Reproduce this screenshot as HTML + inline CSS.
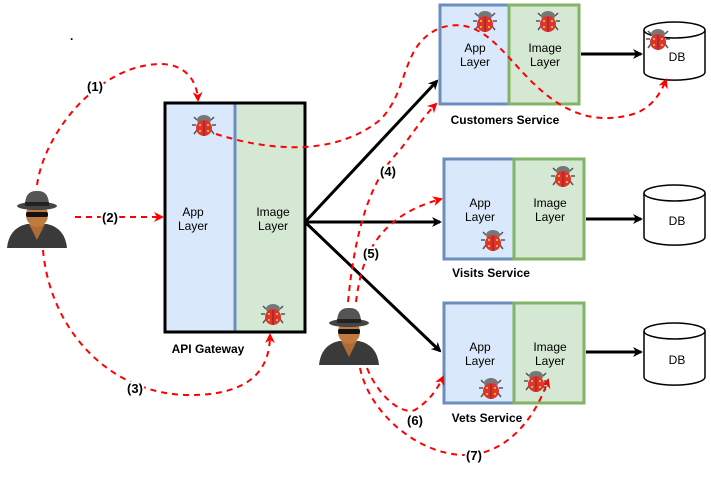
<!DOCTYPE html>
<html><head><meta charset="utf-8"><style>
body{margin:0;background:#fff;width:711px;height:477px;overflow:hidden}
svg{display:block}
text{font-family:"Liberation Sans",sans-serif;font-size:12px;fill:#000}
.b{font-weight:bold}
.l{font-weight:bold;font-size:13px;stroke:#fff;stroke-width:4px;paint-order:stroke;text-anchor:middle}
</style></head><body>
<svg width="711" height="477" viewBox="0 0 711 477" xmlns="http://www.w3.org/2000/svg">
<defs>
<marker id="ab" markerWidth="10" markerHeight="10" refX="8" refY="5" orient="auto" markerUnits="userSpaceOnUse"><path d="M0,0 L10,5 L0,10 L3,5z" fill="#000"/></marker>
<marker id="ar" markerWidth="10" markerHeight="10" refX="8" refY="5" orient="auto" markerUnits="userSpaceOnUse"><path d="M0,0 L10,5 L0,10 L3,5z" fill="#f00"/></marker>
<g id="bug">
<path d="M-7,-5 L-10,-8 M7,-5 L10,-8 M-8,0 L-12,0 M8,0 L12,0 M-7,5 L-10,9 M7,5 L10,9" stroke="#555" stroke-width="1.5"/>
<ellipse cx="0" cy="-5" rx="7" ry="5" fill="#777"/>
<ellipse cx="0" cy="3" rx="8" ry="8" fill="#d33"/>
<line x1="0" y1="-4" x2="0" y2="11" stroke="#822" stroke-width="1"/>
<circle cx="-4" cy="0" r="1" fill="#fd0"/><circle cx="4" cy="0" r="1" fill="#fd0"/><circle cx="-4" cy="6" r="1" fill="#fd0"/><circle cx="4" cy="6" r="1" fill="#fd0"/>
</g>
<g id="hk">
<path d="M-30,30 Q-28,10 -10,6 L10,6 Q28,10 30,30 Z" fill="#3a3a3a"/>
<path d="M-8,6 L0,22 L8,6 Z" fill="#b06a35"/>
<ellipse cx="0" cy="-3" rx="11" ry="12" fill="#c07a40"/>
<rect x="-11" y="-6" width="22" height="5" rx="2" fill="#111"/>
<ellipse cx="0" cy="-12" rx="20" ry="4" fill="#444"/>
<path d="M-12,-12 Q-12,-28 0,-27 Q12,-28 12,-12 Z" fill="#555"/>
<rect x="-12" y="-16" width="24" height="4" fill="#222"/>
</g>
</defs>

<rect x="166" y="104" width="69" height="228" fill="#dae8fc"/>
<rect x="235" y="104" width="69" height="228" fill="#d5e8d4"/>
<line x1="235" y1="104" x2="235" y2="332" stroke="#6c8ebf" stroke-width="3"/>
<rect x="165" y="103" width="140" height="229" fill="none" stroke="#000" stroke-width="3"/>
<text x="193" y="216" text-anchor="middle">App</text><text x="193" y="230" text-anchor="middle">Layer</text>
<text x="273" y="216" text-anchor="middle">Image</text><text x="273" y="230" text-anchor="middle">Layer</text>
<text x="208" y="353" text-anchor="middle" class="b">API Gateway</text>

<g stroke-width="3">
<rect x="440" y="5" width="69" height="99" fill="#dae8fc" stroke="#6c8ebf"/>
<rect x="509" y="5" width="70" height="99" fill="#d5e8d4" stroke="#82b366"/>
<rect x="444" y="159" width="70" height="100" fill="#dae8fc" stroke="#6c8ebf"/>
<rect x="514" y="159" width="70" height="100" fill="#d5e8d4" stroke="#82b366"/>
<rect x="444" y="303" width="70" height="100" fill="#dae8fc" stroke="#6c8ebf"/>
<rect x="514" y="303" width="70" height="100" fill="#d5e8d4" stroke="#82b366"/>
</g>
<text x="475" y="52" text-anchor="middle">App</text><text x="475" y="66" text-anchor="middle">Layer</text>
<text x="545" y="52" text-anchor="middle">Image</text><text x="545" y="66" text-anchor="middle">Layer</text>
<text x="480" y="207" text-anchor="middle">App</text><text x="480" y="221" text-anchor="middle">Layer</text>
<text x="550" y="207" text-anchor="middle">Image</text><text x="550" y="221" text-anchor="middle">Layer</text>
<text x="480" y="351" text-anchor="middle">App</text><text x="480" y="365" text-anchor="middle">Layer</text>
<text x="550" y="351" text-anchor="middle">Image</text><text x="550" y="365" text-anchor="middle">Layer</text>
<text x="505" y="124" text-anchor="middle" class="b">Customers Service</text>
<text x="491" y="277" text-anchor="middle" class="b">Visits Service</text>
<text x="487" y="422" text-anchor="middle" class="b">Vets Service</text>

<g fill="#fff" stroke="#000" stroke-width="1.5">
<path d="M644,30 L644,72 A30,8 0 0 0 705,72 L705,30"/><ellipse cx="674.5" cy="30" rx="30.5" ry="8"/>
<path d="M644,193 L644,237 A30,8 0 0 0 705,237 L705,193"/><ellipse cx="674.5" cy="193" rx="30.5" ry="8"/>
<path d="M644,331 L644,377 A30,8 0 0 0 705,377 L705,331"/><ellipse cx="674.5" cy="331" rx="30.5" ry="8"/>
</g>
<text x="677" y="61" text-anchor="middle">DB</text>
<text x="677" y="225" text-anchor="middle">DB</text>
<text x="677" y="364" text-anchor="middle">DB</text>

<g stroke="#000" stroke-width="3" fill="none" marker-end="url(#ab)">
<line x1="581" y1="54" x2="641" y2="54"/>
<line x1="586" y1="219" x2="641" y2="219"/>
<line x1="586" y1="352" x2="641" y2="352"/>
<line x1="305" y1="222" x2="437" y2="81"/>
<line x1="305" y1="222" x2="440" y2="222"/>
<line x1="305" y1="222" x2="440" y2="351"/>
</g>

<g stroke="#f00" stroke-width="2" fill="none" stroke-dasharray="6,5">
<path d="M37,185 C45,130 100,65 160,64 C185,64 197,80 198,100" marker-end="url(#ar)"/>
<path d="M75,217 L162,217" marker-end="url(#ar)"/>
<path d="M43,250 C50,330 110,395 190,395 C250,395 270,370 270,335" marker-end="url(#ar)"/>
<path d="M216,134 C260,148 330,160 380,120 C410,90 400,45 440,28 C480,15 500,50 530,80 C560,110 590,125 630,115 C650,110 660,95 666,80" marker-end="url(#ar)"/>
<path d="M348,302 C355,230 370,180 400,150 C415,130 425,115 436,104" marker-end="url(#ar)"/>
<path d="M356,302 C360,270 368,245 390,225 C405,212 420,205 441,199" marker-end="url(#ar)"/>
<path d="M367,368 C378,395 400,415 415,410 C430,400 437,390 443,377" marker-end="url(#ar)"/>
<path d="M360,368 C370,415 420,455 465,455 C505,455 535,420 548,380" marker-end="url(#ar)"/>
</g>

<text x="95" y="91" class="l">(1)</text>
<text x="110" y="222" class="l">(2)</text>
<text x="135" y="393" class="l">(3)</text>
<text x="388" y="176" class="l">(4)</text>
<text x="371" y="258" class="l">(5)</text>
<text x="415" y="425" class="l">(6)</text>
<text x="474" y="460" class="l">(7)</text>
<text x="70" y="40" class="b">.</text>

<use href="#bug" x="204" y="125"/>
<use href="#bug" x="273" y="314"/>
<use href="#bug" x="485" y="21"/>
<use href="#bug" x="548" y="21"/>
<use href="#bug" x="658" y="39"/>
<use href="#bug" x="563" y="176"/>
<use href="#bug" x="493" y="240"/>
<use href="#bug" x="491" y="388"/>
<use href="#bug" x="536" y="381"/>

<use href="#hk" x="37" y="218"/>
<use href="#hk" x="349" y="335"/>
</svg>
</body></html>
